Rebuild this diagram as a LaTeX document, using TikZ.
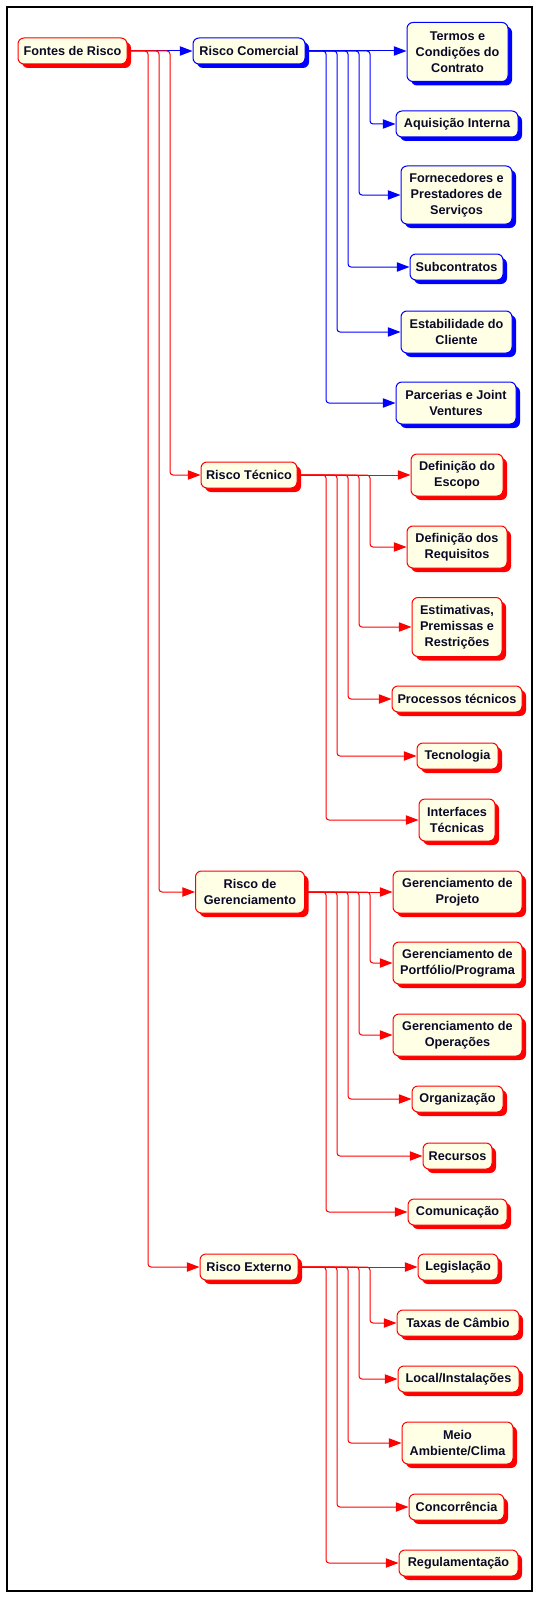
\documentclass[tikz,border=0pt]{standalone}
\usepackage{fontspec}
\setmainfont{Liberation Sans}
\usetikzlibrary{arrows.meta,shadows}
\definecolor{cream}{RGB}{255,255,230}
\definecolor{txtc}{RGB}{10,10,40}
\definecolor{rr}{RGB}{255,0,0}
\definecolor{bb}{RGB}{0,0,255}
\tikzset{
  box/.style={rounded corners=4.5pt, draw=#1, fill=cream, line width=0.75pt,
    text=txtc, align=center, inner sep=0pt,
    font=\fontsize{9.5pt}{12pt}\selectfont\bfseries,
    drop shadow={shadow xshift=3pt, shadow yshift=-3pt, fill=#1, opacity=1, draw=none}},
  conn/.style={draw=#1, line width=0.75pt, rounded corners=2.25pt,
    -{Triangle[length=9.5pt,width=7pt]}},
  frame/.style={draw=black, line width=1pt}
}
\newcommand{\mynode}[7]{\node[box=#6, minimum width=#4*0.75pt, minimum height=#5*0.75pt] (#1) at (#2,#3) {#7};}
\begin{document}
\begin{tikzpicture}[x=0.75pt,y=-0.75pt]
\useasboundingbox (0,0) rectangle (540,1598);
\draw[frame] (7,7) rectangle (532,1591);
% vertical rails
\coordinate (r1) at (170,0);
\coordinate (r2) at (159,0);
\coordinate (r3) at (148,0);
\coordinate (v1) at (370,0);
\coordinate (v2) at (359,0);
\coordinate (v3) at (348,0);
\coordinate (v4) at (337,0);
\coordinate (v5) at (326,0);
% nodes
\mynode{root}{72.5}{51}{109}{26}{rr}{Fontes de Risco}
\mynode{com}{249}{51}{112}{26}{bb}{Risco Comercial}
\mynode{c1}{457.5}{52}{101}{59}{bb}{Termos e\\Condições do\\Contrato}
\mynode{c2}{457}{124}{122}{26}{bb}{Aquisição Interna}
\mynode{c3}{456.5}{195}{111}{58}{bb}{Fornecedores e\\Prestadores de\\Serviços}
\mynode{c4}{456.5}{267}{93}{26}{bb}{Subcontratos}
\mynode{c5}{456.5}{332}{111}{42}{bb}{Estabilidade do\\Cliente}
\mynode{c6}{456}{403}{120}{42}{bb}{Parcerias e Joint\\Ventures}
\mynode{tec}{249}{475}{96}{26}{rr}{Risco Técnico}
\mynode{t1}{457}{475}{92}{42}{rr}{Definição do\\Escopo}
\mynode{t2}{457}{547}{100}{42}{rr}{Definição dos\\Requisitos}
\mynode{t3}{457}{627}{90}{59}{rr}{Estimativas,\\Premissas e\\Restrições}
\mynode{t4}{457}{699}{130}{26}{rr}{Processos técnicos}
\mynode{t5}{457.5}{756}{81}{26}{rr}{Tecnologia}
\mynode{t6}{457}{820}{76}{42}{rr}{Interfaces\\Técnicas}
\mynode{ger}{250}{892}{109}{42}{rr}{Risco de\\Gerenciamento}
\mynode{g1}{457.5}{892}{129}{42}{rr}{Gerenciamento de\\Projeto}
\mynode{g2}{457.5}{963}{129}{42}{rr}{Gerenciamento de\\Portfólio/Programa}
\mynode{g3}{457.5}{1035}{129}{42}{rr}{Gerenciamento de\\Operações}
\mynode{g4}{457.5}{1099}{91}{26}{rr}{Organização}
\mynode{g5}{457.5}{1156}{69}{26}{rr}{Recursos}
\mynode{g6}{457.5}{1212}{99}{26}{rr}{Comunicação}
\mynode{ext}{249}{1267}{98}{26}{rr}{Risco Externo}
\mynode{e1}{458}{1267}{80}{26}{rr}{Legislação}
\mynode{e2}{458}{1323}{122}{26}{rr}{Taxas de Câmbio}
\mynode{e3}{458.5}{1379}{121}{26}{rr}{Local/Instalações}
\mynode{e4}{457.5}{1443}{111}{42}{rr}{Meio\\Ambiente/Clima}
\mynode{e5}{456.5}{1507}{95}{26}{rr}{Concorrência}
\mynode{e6}{458.5}{1563}{119}{26}{rr}{Regulamentação}
% root connectors
\draw[conn=bb] (root.east) -- (com.west);
\draw[conn=rr] (root.east) -| (r1 |- tec.west) -- (tec.west);
\draw[conn=rr] (root.east) -| (r2 |- ger.west) -- (ger.west);
\draw[conn=rr] (root.east) -| (r3 |- ext.west) -- (ext.west);
% Comercial
\draw[conn=bb] (com.east) -- (com.east -| c1.west);
\draw[conn=bb] (com.east) -| (v1 |- c2.west) -- (c2.west);
\draw[conn=bb] (com.east) -| (v2 |- c3.west) -- (c3.west);
\draw[conn=bb] (com.east) -| (v3 |- c4.west) -- (c4.west);
\draw[conn=bb] (com.east) -| (v4 |- c5.west) -- (c5.west);
\draw[conn=bb] (com.east) -| (v5 |- c6.west) -- (c6.west);
% Tecnico
\draw[conn=rr] (tec.east) -- (t1.west);
\draw[conn=rr] (tec.east) -| (v1 |- t2.west) -- (t2.west);
\draw[conn=rr] (tec.east) -| (v2 |- t3.west) -- (t3.west);
\draw[conn=rr] (tec.east) -| (v3 |- t4.west) -- (t4.west);
\draw[conn=rr] (tec.east) -| (v4 |- t5.west) -- (t5.west);
\draw[conn=rr] (tec.east) -| (v5 |- t6.west) -- (t6.west);
% Gerenciamento
\draw[conn=rr] (ger.east) -- (g1.west);
\draw[conn=rr] (ger.east) -| (v1 |- g2.west) -- (g2.west);
\draw[conn=rr] (ger.east) -| (v2 |- g3.west) -- (g3.west);
\draw[conn=rr] (ger.east) -| (v3 |- g4.west) -- (g4.west);
\draw[conn=rr] (ger.east) -| (v4 |- g5.west) -- (g5.west);
\draw[conn=rr] (ger.east) -| (v5 |- g6.west) -- (g6.west);
% Externo
\draw[conn=rr] (ext.east) -- (e1.west);
\draw[conn=rr] (ext.east) -| (v1 |- e2.west) -- (e2.west);
\draw[conn=rr] (ext.east) -| (v2 |- e3.west) -- (e3.west);
\draw[conn=rr] (ext.east) -| (v3 |- e4.west) -- (e4.west);
\draw[conn=rr] (ext.east) -| (v4 |- e5.west) -- (e5.west);
\draw[conn=rr] (ext.east) -| (v5 |- e6.west) -- (e6.west);
\end{tikzpicture}
\end{document}
